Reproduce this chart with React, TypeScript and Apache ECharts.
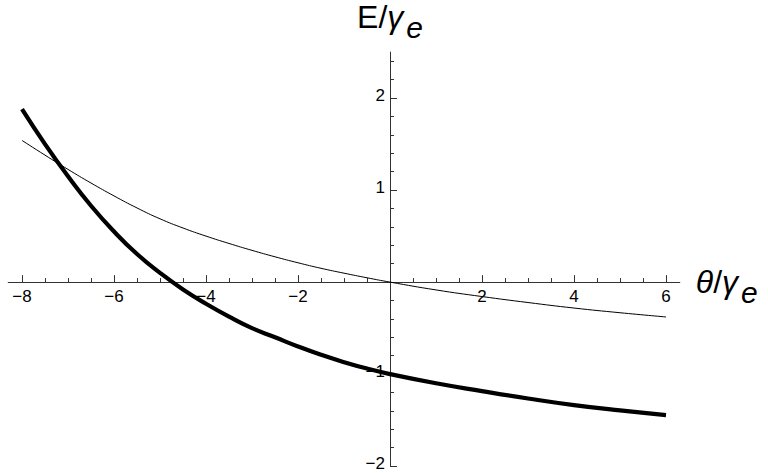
import React, { useEffect, useRef } from "react";
import * as echarts from "echarts";

// Sample points along θ/γe
const theta = [-8, -7.5, -7, -6.5, -6, -5.5, -5, -4.5, -4, -3.5, -3, -2.5, -2, -1.5, -1, -0.5, 0, 1, 2, 3, 4, 5, 6];

// Upper (thin) branch E/γe
const upperBranch = [1.54, 1.38, 1.225, 1.077, 0.937, 0.806, 0.688, 0.588, 0.5, 0.42, 0.345, 0.275, 0.21, 0.15, 0.097, 0.047, 0, -0.085, -0.157, -0.222, -0.282, -0.333, -0.379];

// Lower (thick) branch E/γe
const lowerBranch = [1.88, 1.5, 1.15, 0.83, 0.55, 0.305, 0.1, -0.08, -0.235, -0.375, -0.5, -0.6, -0.7, -0.79, -0.87, -0.94, -1.0, -1.1, -1.185, -1.265, -1.337, -1.395, -1.445];

// Axis ticks and labels
const xLabelValues = [-8, -6, -4, -2, 2, 4, 6];
const xMajorTicks = [-8, -6, -4, -2, 0, 2, 4, 6];
const xMinorStep = 0.5;
const yLabelValues = [-2, -1, 1, 2];
const yMajorTicks = [-2, -1, 0, 1, 2];
const yMinorStep = 0.2;

const X_MIN = -8.3;
const X_MAX = 6.3;
const Y_MIN = -2;
const Y_MAX = 2.5;

// Plot box
const GRID_LEFT = 8.2;
const GRID_TOP = 52.1;
const GRID_W = 671.6;
const GRID_H = 414;

// The axes cross at the origin: shift them from the grid edges onto zero.
const xAxisOffset = -GRID_H * (0 - Y_MIN) / (Y_MAX - Y_MIN);
const yAxisOffset = -GRID_W * (0 - X_MIN) / (X_MAX - X_MIN);

const FONT = "'Liberation Sans', Arial, Helvetica, sans-serif";
const AXIS_COLOR = "#333";

function stepsBetween(from: number, to: number, step: number): number[] {
  const out: number[] = [];
  const n = Math.round((to - from) / step);
  for (let k = 0; k <= n; k++) out.push(Math.round((from + k * step) * 100) / 100);
  return out;
}

const xMinorTicks = stepsBetween(-8, 6, xMinorStep);
const yMinorTicks = stepsBetween(-2, 2.4, yMinorStep);

const fmt = (v: number) => String(v).replace("-", "\u2212");
// y labels sit a little above their ticks
const fmtY = (v: number) => `{v|${fmt(v)}}`;

const titleRich = {
  n: { fontFamily: FONT, fontSize: 32, color: "#000" },
  i: { fontFamily: FONT, fontSize: 32, fontStyle: "italic", color: "#000" },
  s: { fontFamily: FONT, fontSize: 30, fontStyle: "italic", color: "#000", padding: [20, 0, 0, 3] },
};

export default function App() {
  const ref = useRef<HTMLDivElement>(null);

  useEffect(() => {
    if (!ref.current) return;
    const chart = echarts.init(ref.current, null, { renderer: "svg" });
    const tickStyle = { color: AXIS_COLOR, width: 1 };
    chart.setOption({
      animation: false,
      backgroundColor: "#fff",
      grid: {
        left: GRID_LEFT,
        top: GRID_TOP,
        width: GRID_W,
        height: GRID_H,
        containLabel: false,
        outerBoundsMode: "none",
      },
      xAxis: [
        {
          type: "value",
          position: "bottom",
          offset: xAxisOffset,
          min: X_MIN,
          max: X_MAX,
          splitLine: { show: false },
          axisLine: { onZero: false, lineStyle: { color: AXIS_COLOR, width: 1 } },
          axisTick: { inside: true, length: 7, customValues: xMajorTicks, lineStyle: tickStyle },
          axisLabel: {
            customValues: xLabelValues,
            formatter: fmt,
            fontFamily: FONT,
            fontSize: 17,
            color: "#000",
            margin: 6,
          },
          name: "{i|θ}{n|/}{i|γ}{s|e}",
          nameLocation: "end",
          nameGap: 16,
          nameTextStyle: { fontFamily: FONT, fontSize: 32, color: "#000", rich: titleRich },
        },
        {
          type: "value",
          position: "bottom",
          offset: xAxisOffset,
          min: X_MIN,
          max: X_MAX,
          splitLine: { show: false },
          axisLine: { onZero: false, lineStyle: { color: AXIS_COLOR, opacity: 0 } },
          axisTick: { inside: true, length: 4, customValues: xMinorTicks, lineStyle: tickStyle },
          axisLabel: { show: false },
        },
      ],
      yAxis: [
        {
          type: "value",
          position: "left",
          offset: yAxisOffset,
          min: Y_MIN,
          max: Y_MAX,
          splitLine: { show: false },
          axisLine: { onZero: false, lineStyle: { color: AXIS_COLOR, width: 1 } },
          axisTick: { inside: true, length: 7, customValues: yMajorTicks, lineStyle: tickStyle },
          axisLabel: {
            customValues: yLabelValues,
            formatter: fmtY,
            fontFamily: FONT,
            fontSize: 17,
            color: "#000",
            margin: 5,
            rich: {
              v: { fontFamily: FONT, fontSize: 17, color: "#000", lineHeight: 14, padding: [0, 0, 5, 0] },
            },
          },
          name: "{n|E/}{i|γ}{s|e}",
          nameLocation: "end",
          nameGap: 10,
          nameTextStyle: { fontFamily: FONT, fontSize: 32, color: "#000", rich: titleRich },
        },
        {
          type: "value",
          position: "left",
          offset: yAxisOffset,
          min: Y_MIN,
          max: Y_MAX,
          splitLine: { show: false },
          axisLine: { onZero: false, lineStyle: { color: AXIS_COLOR, opacity: 0 } },
          axisTick: { inside: true, length: 4, customValues: yMinorTicks, lineStyle: tickStyle },
          axisLabel: { show: false },
        },
      ],
      series: [
        {
          type: "line",
          xAxisIndex: 0,
          yAxisIndex: 0,
          data: theta.map((t, i) => [t, upperBranch[i]]),
          smooth: true,
          showSymbol: false,
          symbol: "none",
          lineStyle: { color: "#000", width: 1 },
          z: 3,
        },
        {
          type: "line",
          xAxisIndex: 0,
          yAxisIndex: 0,
          data: theta.map((t, i) => [t, lowerBranch[i]]),
          smooth: true,
          showSymbol: false,
          symbol: "none",
          lineStyle: { color: "#000", width: 4.2 },
          z: 4,
        },
      ],
    });
    return () => chart.dispose();
  }, []);

  return (
    <div
      ref={ref}
      style={{ position: "fixed", left: 0, top: 0, width: 768, height: 473, background: "#fff" }}
    />
  );
}
